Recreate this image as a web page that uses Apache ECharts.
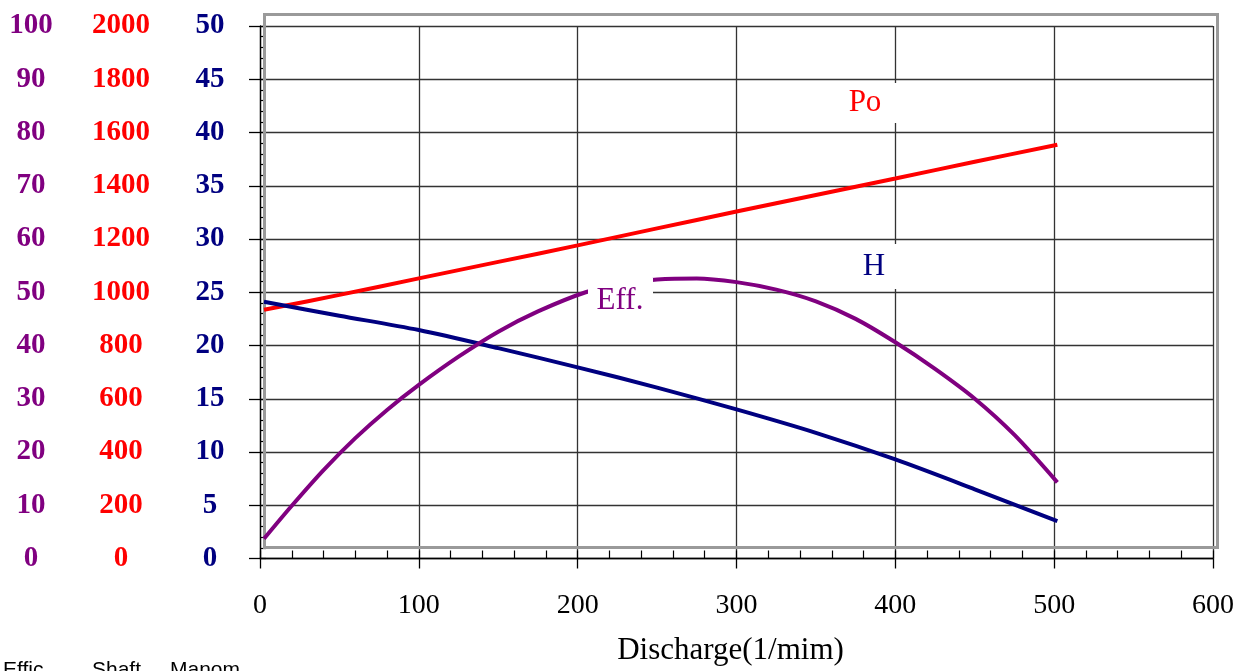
<!DOCTYPE html>
<html>
<head>
<meta charset="utf-8">
<script src="https://cdn.jsdelivr.net/npm/echarts@6/dist/echarts.min.js"></script>
<style>
html,body{margin:0;padding:0;background:#fff;}
#chart{width:1249px;height:671px;}
</style>
</head>
<body>
<div id="chart"></div>
<script>
// Discharge (1/min)
var poX = [2.5, 50, 100, 150, 200, 250, 300, 350, 400, 450, 502];
var poVals = [934, 990, 1052, 1114, 1176, 1240, 1303, 1365, 1427, 1490, 1554];

var hX = [2.5, 50, 100, 150, 200, 250, 300, 350, 400, 450, 502];
var hVals = [24.1, 22.8, 21.45, 19.75, 17.95, 16.05, 14.0, 11.8, 9.3, 6.5, 3.5];

var effX = [2.5, 20, 40, 60, 80, 100, 125, 150, 175, 205, 228, 250, 275, 300, 325, 350, 375, 400, 425, 450, 475, 502];
var effVals = [3.7, 9.9, 16.6, 22.6, 27.9, 32.6, 37.9, 42.6, 46.4, 50.0, 51.6, 52.4, 52.6, 51.9, 50.5, 48.3, 45.0, 40.6, 35.6, 30.0, 23.2, 14.3];

var xTicks = [0, 100, 200, 300, 400, 500, 600];
var hTicks = [0, 5, 10, 15, 20, 25, 30, 35, 40, 45, 50];
var poTicks = [0, 200, 400, 600, 800, 1000, 1200, 1400, 1600, 1800, 2000];
var effTicks = [0, 10, 20, 30, 40, 50, 60, 70, 80, 90, 100];

function pairs(xs, ys) { return xs.map(function (x, i) { return [x, ys[i]]; }); }
function plain(v) { return String(v); }

var NAVY = '#000080', RED = '#ff0000', PURPLE = '#800080';
var SERIF = 'Liberation Serif';

var chart = echarts.init(document.getElementById('chart'));
chart.setOption({
  animation: false,
  backgroundColor: '#fff',
  grid: { left: 260, right: 36, top: 26, bottom: 111, containLabel: false },
  xAxis: [
    {
      type: 'value', min: xTicks[0], max: xTicks[xTicks.length - 1], interval: 100,
      position: 'bottom',
      axisLine: { show: true, onZero: false, lineStyle: { color: '#000', width: 1.3 } },
      axisTick: { show: true, inside: false, length: 10, lineStyle: { color: '#000', width: 1.3 } },
      splitLine: { show: true, lineStyle: { color: '#333', width: 1.3 } },
      axisLabel: { color: '#000', fontFamily: SERIF, fontSize: 28, margin: 47, verticalAlign: 'middle', formatter: plain },
      name: 'Discharge(1/mim)', nameLocation: 'middle', nameGap: 92,
      nameTextStyle: { color: '#000', fontFamily: SERIF, fontSize: 31, verticalAlign: 'middle', padding: [0, 12, 0, 0] }
    },
    {
      type: 'value', min: 0, max: 600, interval: 20, position: 'bottom',
      axisLine: { show: false },
      axisTick: { show: true, inside: true, length: 8, lineStyle: { color: '#000', width: 1.2 } },
      splitLine: { show: false }, axisLabel: { show: false }
    }
  ],
  yAxis: [
    {
      type: 'value', min: hTicks[0], max: hTicks[hTicks.length - 1], interval: 5, position: 'left',
      axisLine: { show: true, onZero: false, lineStyle: { color: '#000', width: 1.3 } },
      axisTick: { show: true, inside: false, length: 11, lineStyle: { color: '#000', width: 1.3 } },
      splitLine: { show: true, lineStyle: { color: '#333', width: 1.3 } },
      axisLabel: { color: NAVY, fontFamily: SERIF, fontWeight: 'bold', fontSize: 29, align: 'center', verticalAlign: 'middle', margin: 50, formatter: plain }
    },
    {
      type: 'value', min: poTicks[0], max: poTicks[poTicks.length - 1], interval: 200, position: 'left',
      axisLine: { show: false }, axisTick: { show: false }, splitLine: { show: false },
      axisLabel: { color: RED, fontFamily: SERIF, fontWeight: 'bold', fontSize: 29, align: 'center', verticalAlign: 'middle', margin: 139, formatter: plain }
    },
    {
      type: 'value', min: effTicks[0], max: effTicks[effTicks.length - 1], interval: 10, position: 'left',
      axisLine: { show: false }, axisTick: { show: false }, splitLine: { show: false },
      axisLabel: { color: PURPLE, fontFamily: SERIF, fontWeight: 'bold', fontSize: 29, align: 'center', verticalAlign: 'middle', margin: 229, formatter: plain }
    },
    {
      type: 'value', min: 0, max: 50, interval: 1, position: 'left',
      axisLine: { show: false },
      axisTick: { show: true, inside: true, length: 6, lineStyle: { color: '#000', width: 1.2 } },
      splitLine: { show: false }, axisLabel: { show: false }
    }
  ],
  series: [
    {
      name: 'Po', type: 'line', xAxisIndex: 0, yAxisIndex: 1, data: pairs(poX, poVals),
      smooth: 0.3, showSymbol: false, symbol: 'none', lineStyle: { color: RED, width: 4 }, z: 3
    },
    {
      name: 'H', type: 'line', xAxisIndex: 0, yAxisIndex: 0, data: pairs(hX, hVals),
      smooth: 0.3, showSymbol: false, symbol: 'none', lineStyle: { color: NAVY, width: 4 }, z: 3
    },
    {
      name: 'Eff.', type: 'line', xAxisIndex: 0, yAxisIndex: 2, data: pairs(effX, effVals),
      smooth: 0.3, showSymbol: false, symbol: 'none', lineStyle: { color: PURPLE, width: 4 }, z: 3
    }
  ],
  graphic: [
    { type: 'rect', z: 1, silent: true, shape: { x: 264.5, y: 14.5, width: 953, height: 533 },
      style: { fill: 'none', stroke: '#9a9a9a', lineWidth: 3 } },
    // label boxes
    { type: 'rect', z: 50, shape: { x: 832, y: 83, width: 68, height: 40 }, style: { fill: '#fff' } },
    { type: 'text', z: 51, style: { text: 'Po', x: 865, y: 103, fill: RED, font: '31px "Liberation Serif"', textAlign: 'center', textVerticalAlign: 'middle' } },
    { type: 'rect', z: 50, shape: { x: 850, y: 244, width: 50, height: 45 }, style: { fill: '#fff' } },
    { type: 'text', z: 51, style: { text: 'H', x: 874, y: 267, fill: NAVY, font: '31px "Liberation Serif"', textAlign: 'center', textVerticalAlign: 'middle' } },
    { type: 'rect', z: 50, shape: { x: 588, y: 278, width: 65, height: 44 }, style: { fill: '#fff' } },
    { type: 'text', z: 51, style: { text: 'Eff.', x: 620, y: 301, fill: PURPLE, font: '31px "Liberation Serif"', textAlign: 'center', textVerticalAlign: 'middle' } },
    // bottom-left captions
    { type: 'text', z: 51, style: { text: 'Effic.', x: 3, y: 660, fill: '#000', font: '21px "Liberation Sans"', textVerticalAlign: 'top' } },
    { type: 'text', z: 51, style: { text: 'Shaft', x: 92, y: 660, fill: '#000', font: '21px "Liberation Sans"', textVerticalAlign: 'top' } },
    { type: 'text', z: 51, style: { text: 'Manom', x: 170, y: 660, fill: '#000', font: '21px "Liberation Sans"', textVerticalAlign: 'top' } }
  ]
});
</script>
</body>
</html>
